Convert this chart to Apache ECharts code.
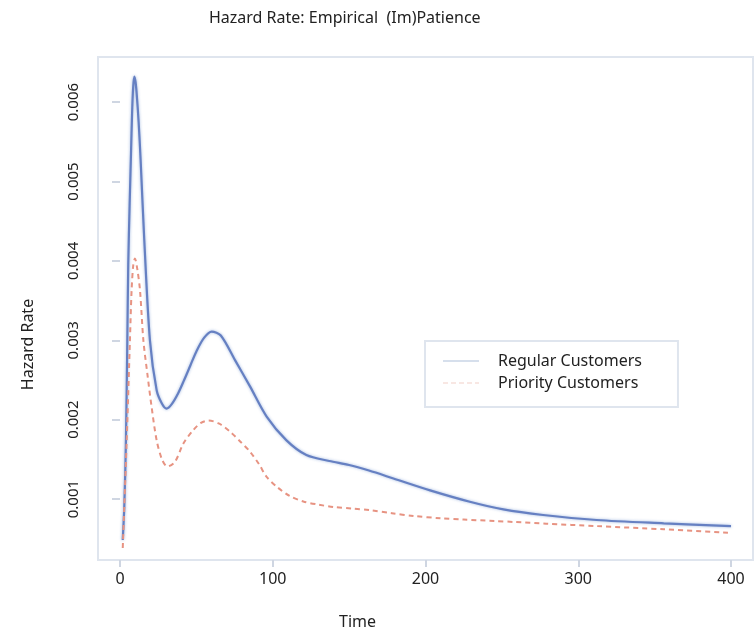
<!DOCTYPE html>
<html>
<head>
<meta charset="utf-8">
<script src="https://cdn.jsdelivr.net/npm/echarts@6/dist/echarts.min.js"></script>
<style>
  html, body { margin: 0; padding: 0; background: #fff; }
  #chart { width: 756px; height: 636px; }
</style>
</head>
<body>
<div id="chart"></div>
<script>
// 时间点与风险率（单位 0.001）
var timeRegular = [1.8, 2.8, 3.9, 4.8, 5.4, 6.3, 7.2, 7.9, 8.6, 9.4, 10.2, 10.9, 12.2, 13.5, 15.9, 19.6, 24, 27.5, 30.5, 34, 38, 42, 46, 50, 55, 60, 66, 75.3, 85.1, 96, 109, 122, 137, 150, 163, 179, 203, 229, 251, 277, 312, 356, 400];
var hazardRegular = [0.485, 0.9, 1.74, 3.0, 3.95, 4.7, 5.35, 5.85, 6.18, 6.32, 6.25, 6.11, 5.75, 5.27, 4.26, 3.0, 2.37, 2.2, 2.14, 2.2, 2.33, 2.5, 2.68, 2.86, 3.03, 3.11, 3.06, 2.75, 2.42, 2.04, 1.74, 1.555, 1.48, 1.43, 1.36, 1.26, 1.11, 0.967, 0.87, 0.80, 0.737, 0.695, 0.66];

var timePriority = [1.8, 2.8, 4.4, 6.5, 7.6, 8.7, 9.8, 11.3, 13.1, 15.3, 17.9, 20.7, 24, 27.5, 31, 36, 41.5, 48, 53, 58, 65, 72, 79, 85, 91, 96, 103, 111, 120, 130, 140, 152, 164, 178, 192, 210, 225, 245, 258, 279, 312, 356, 398];
var hazardPriority = [0.384, 0.9, 1.74, 3.0, 3.63, 3.95, 4.03, 3.9, 3.63, 3.0, 2.58, 2.16, 1.74, 1.5, 1.41, 1.47, 1.7, 1.87, 1.96, 1.99, 1.95, 1.85, 1.72, 1.6, 1.44, 1.28, 1.15, 1.04, 0.97, 0.93, 0.9, 0.882, 0.86, 0.822, 0.788, 0.758, 0.742, 0.725, 0.712, 0.69, 0.66, 0.62, 0.577];

var xTicks = [0, 100, 200, 300, 400];
var yTicks = [0.001, 0.002, 0.003, 0.004, 0.005, 0.006];

function toPairs(ts, vs) {
    var out = [];
    for (var i = 0; i < ts.length; i++) {
        out.push([ts[i], vs[i] / 1000]);
    }
    return out;
}

var myChart = echarts.init(document.getElementById('chart'));
var fontName = 'Noto Sans';

var option = {
    animation: false,
    title: {
        text: 'Hazard Rate: Empirical  (Im)Patience',
        left: 204,
        top: 5,
        textStyle: { fontFamily: fontName, fontSize: 16, fontWeight: 'normal', color: '#222' }
    },
    legend: {
        orient: 'vertical',
        left: 425,
        top: 341,
        padding: [12, 36, 16, 18],
        itemWidth: 36,
        itemHeight: 14,
        itemGap: 6,
        borderColor: '#dfe5ee',
        borderWidth: 2,
        textStyle: { fontFamily: fontName, fontSize: 16, color: '#222', padding: [0, 0, 0, 14] },
        data: [
            { name: 'Regular Customers', icon: 'path://M0,6L36,6L36,8L0,8Z', itemStyle: { color: '#d6dfec' } },
            { name: 'Priority Customers', icon: 'path://M0,6L5,6L5,7L0,7ZM8,6L13,6L13,7L8,7ZM16,6L21,6L21,7L16,7ZM24,6L29,6L29,7L24,7ZM32,6L36,6L36,7L32,7Z', itemStyle: { color: '#f1cfc8' } }
        ]
    },
    grid: {
        left: 98,
        top: 57,
        right: 3,
        bottom: 76,
        show: true,
        borderColor: '#dfe5ee',
        borderWidth: 2
    },
    xAxis: {
        type: 'value',
        min: -14.4,
        max: 414.4,
        name: 'Time',
        nameLocation: 'middle',
        nameGap: 54,
        nameTextStyle: { fontFamily: fontName, fontSize: 16, color: '#222', padding: [0, 136, 0, 0] },
        splitLine: { show: false },
        axisLine: { show: false },
        axisTick: { show: true, length: 7, customValues: xTicks, lineStyle: { color: '#cfd6e2', width: 2 } },
        axisLabel: { customValues: xTicks, margin: 11, fontFamily: fontName, fontSize: 16, color: '#222' }
    },
    yAxis: {
        type: 'value',
        min: 0.000233,
        max: 0.006568,
        name: 'Hazard Rate',
        nameLocation: 'middle',
        nameGap: 62,
        nameTextStyle: { fontFamily: fontName, fontSize: 16, color: '#222', padding: [0, 72, 0, 0] },
        splitLine: { show: false },
        axisLine: { show: false },
        axisTick: { show: true, length: 8, customValues: yTicks, lineStyle: { color: '#cfd6e2', width: 2 } },
        axisLabel: {
            customValues: yTicks,
            rotate: 90,
            margin: 17,
            fontFamily: fontName,
            fontSize: 15,
            color: '#222',
            formatter: function (v) { return v.toFixed(3); }
        }
    },
    series: [
        {
            name: 'Regular Customers',
            type: 'line',
            symbol: 'none',
            smooth: 0.3,
            data: toPairs(timeRegular, hazardRegular),
            lineStyle: { color: '#6680c2', width: 2.2, shadowColor: 'rgba(150,175,220,0.9)', shadowBlur: 3 }
        },
        {
            name: 'Priority Customers',
            type: 'line',
            symbol: 'none',
            smooth: 0.3,
            data: toPairs(timePriority, hazardPriority),
            lineStyle: { color: '#e79382', width: 2, type: [5, 4] }
        }
    ]
};

myChart.setOption(option);
</script>
</body>
</html>
